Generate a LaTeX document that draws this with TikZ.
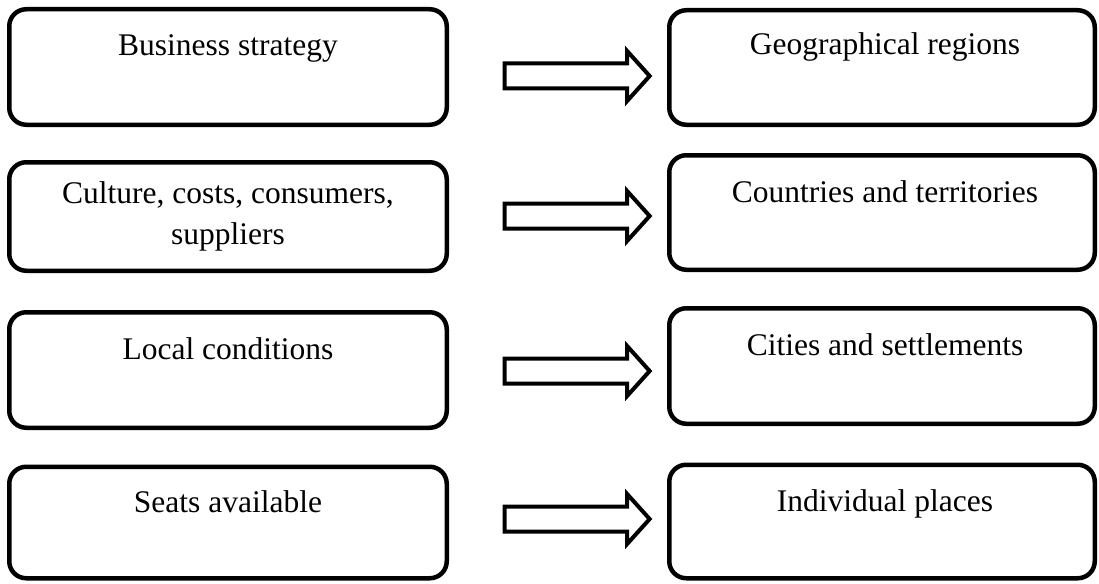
\documentclass[tikz,border=0pt]{standalone}
\usepackage{fontspec}
\setmainfont{Liberation Serif}
\usetikzlibrary{shapes.arrows, positioning, calc}

\tikzset{
  box/.style={draw, line width=4.5pt, rounded corners=17pt, inner sep=0pt},
  leftbox/.style={box, minimum width=437.5pt},
  rightbox/.style={box, minimum width=425.5pt},
  txt/.style={anchor=base, inner sep=0pt, align=center,
    font=\fontsize{31.5}{41}\selectfont},
  fatarrow/.style={draw, line width=4pt, single arrow, inner sep=10.5pt,
    single arrow head extend=12.5pt, single arrow tip angle=96,
    minimum height=145pt, anchor=center}
}

\begin{document}
\begin{tikzpicture}[x=1pt,y=-1pt]
\useasboundingbox (0,0) rectangle (1099,583);
\node[leftbox, minimum height=115.5pt] (l1) at (228,67) {};
\node[leftbox, minimum height=108.5pt] (l2) at (228,216.5) {};
\node[leftbox, minimum height=115.5pt] (l3) at (228,370) {};
\node[leftbox, minimum height=111.5pt] (l4) at (228,522.5) {};
\node[rightbox, minimum height=114.5pt] (r1) at (882,67.5) {};
\node[rightbox, minimum height=114.5pt] (r2) at (882,212.5) {};
\node[rightbox, minimum height=115.5pt] (r3) at (882,366) {};
\node[rightbox, minimum height=113.5pt] (r4) at (882,521.5) {};
\node[txt] (t1) at ([yshift=-49pt]l1.north) {Business strategy};
\node[txt] (t2) at ([yshift=-84pt]l2.north) {Culture, costs, consumers,\\suppliers};
\node[txt] (t3) at ([yshift=-49pt]l3.north) {Local conditions};
\node[txt] (t4) at ([yshift=-48pt]l4.north) {Seats available};
\node[txt] (u1) at ([xshift=3pt,yshift=-47pt]r1.north) {Geographical regions};
\node[txt] (u2) at ([xshift=3pt,yshift=-49pt]r2.north) {Countries and territories};
\node[txt] (u3) at ([xshift=3pt,yshift=-49pt]r3.north) {Cities and settlements};
\node[txt] (u4) at ([xshift=3pt,yshift=-49pt]r4.north) {Individual places};
\node[fatarrow] (a1) at (571.5,76) {};
\node[fatarrow] (a2) at (571.5,216) {};
\node[fatarrow] (a3) at (571.5,371) {};
\node[fatarrow] (a4) at (571.5,519) {};
\end{tikzpicture}
\end{document}
